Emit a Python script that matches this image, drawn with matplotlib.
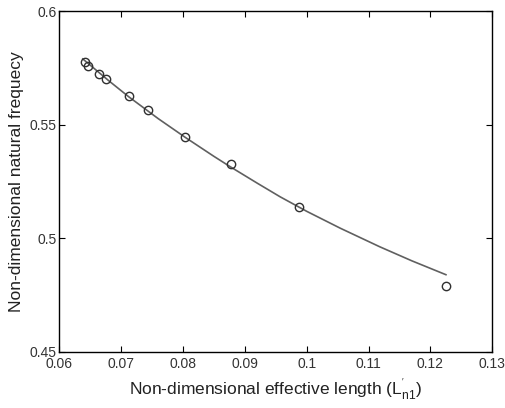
import matplotlib
matplotlib.use("Agg")
import matplotlib.pyplot as plt

plt.rcParams['font.family'] = ['Liberation Sans', 'DejaVu Sans']
plt.rcParams['mathtext.fontset'] = 'custom'
plt.rcParams['mathtext.rm'] = 'Liberation Sans'

# measured points
L_meas = [0.0642, 0.0647, 0.0664, 0.0675, 0.0712, 0.0744, 0.0804, 0.0877, 0.0988, 0.1225]
w_meas = [0.5774, 0.5758, 0.5724, 0.5702, 0.5626, 0.5564, 0.5447, 0.5325, 0.5136, 0.4790]

# fitted curve
L_fit = [0.0638, 0.0680, 0.0712, 0.0760, 0.0804, 0.0850, 0.0876, 0.0920,
         0.0957, 0.1000, 0.1054, 0.1118, 0.1170, 0.1225]
w_fit = [0.5789, 0.5693, 0.5623, 0.5526, 0.5443, 0.5360, 0.5315, 0.5242,
         0.5182, 0.5118, 0.5044, 0.4962, 0.4900, 0.4839]

xticks = [0.06, 0.07, 0.08, 0.09, 0.1, 0.11, 0.12, 0.13]
xtick_labels = ['0.06', '0.07', '0.08', '0.09', '0.1', '0.11', '0.12', '0.13']
yticks = [0.45, 0.5, 0.55, 0.6]
ytick_labels = ['0.45', '0.5', '0.55', '0.6']

fig = plt.figure(figsize=(5.05, 4.08), dpi=100)
ax = fig.add_axes([0.1174, 0.138, 0.8575, 0.835])

ax.plot(L_fit, w_fit, '-', color='#606060', lw=1.2)
ax.plot(L_meas, w_meas, 'o', mfc='none', mec='#303030', mew=1.0, ms=6)

ax.set_xlim(0.06, 0.13)
ax.set_ylim(0.45, 0.6)
ax.set_xticks(xticks)
ax.set_xticklabels(xtick_labels)
ax.set_yticks(yticks)
ax.set_yticklabels(ytick_labels)
ax.tick_params(direction='in', top=True, right=True, length=4, width=0.8,
               labelsize=10, colors='black', labelcolor='#333333')
ax.tick_params(axis='x', pad=4)
ax.tick_params(axis='y', pad=2)
for s in ax.spines.values():
    s.set_linewidth(1.0)

ax.set_xlabel(r"Non-dimensional effective length ($\mathregular{L^{'}_{n1}}$)",
              fontsize=12.5, color='#222222', labelpad=4)
ax.set_ylabel("Non-dimensional natural frequecy", fontsize=12.5, color='#222222', labelpad=4)

fig.savefig("out.png", dpi=100)
